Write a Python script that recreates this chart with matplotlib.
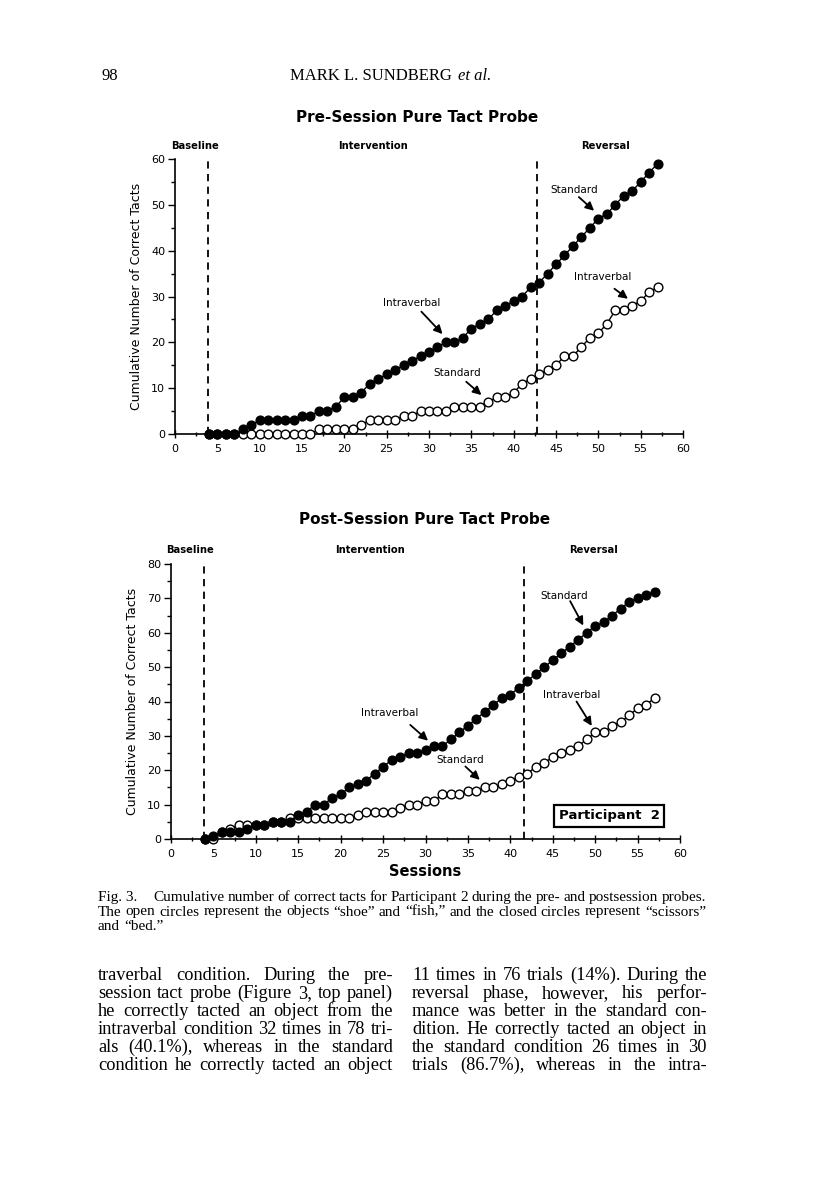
import matplotlib
matplotlib.use('Agg')
import matplotlib.pyplot as plt
from matplotlib.ticker import MultipleLocator

W, H = 816, 1177

# sessions 4..57
sessions = list(range(4, 58))

pre_closed = [0, 0, 0, 0, 1, 2, 3, 3, 3, 3,
              3, 4, 4, 5, 5, 6, 8, 8, 9, 11,
              12, 13, 14, 15, 16, 17, 18, 19, 20, 20,
              21, 23, 24, 25, 27, 28, 29, 30, 32, 33,
              35, 37, 39, 41, 43, 45, 47, 48, 50, 52,
              53, 55, 57, 59]
pre_open = [0, 0, 0, 0, 0, 0, 0, 0, 0, 0,
            0, 0, 0, 1, 1, 1, 1, 1, 2, 3,
            3, 3, 3, 4, 4, 5, 5, 5, 5, 6,
            6, 6, 6, 7, 8, 8, 9, 11, 12, 13,
            14, 15, 17, 17, 19, 21, 22, 24, 27, 27,
            28, 29, 31, 32]

post_closed = [0, 1, 2, 2, 2, 3, 4, 4, 5, 5,
               5, 7, 8, 10, 10, 12, 13, 15, 16, 17,
               19, 21, 23, 24, 25, 25, 26, 27, 27, 29,
               31, 33, 35, 37, 39, 41, 42, 44, 46, 48,
               50, 52, 54, 56, 58, 60, 62, 63, 65, 67,
               69, 70, 71, 72]
post_open = [0, 0, 2, 3, 4, 4, 4, 4, 5, 5,
             6, 6, 6, 6, 6, 6, 6, 6, 7, 8,
             8, 8, 8, 9, 10, 10, 11, 11, 13, 13,
             13, 14, 14, 15, 15, 16, 17, 18, 19, 21,
             22, 24, 25, 26, 27, 29, 31, 31, 33, 34,
             36, 38, 39, 41]

phase_lines_pre = [3.9, 42.7]
phase_lines_post = [3.9, 41.6]
phase_names = ['Baseline', 'Intervention', 'Reversal']

fig = plt.figure(figsize=(W / 100, H / 100), dpi=100)
fig.patch.set_facecolor('white')
SANS = 'DejaVu Sans'
SERIF = 'Liberation Serif'


def fx(x):
    return x / W


def fy(y):
    return 1 - y / H


def make_axes(left, right, y0, ytop):
    return fig.add_axes([fx(left), fy(y0), (right - left) / W, (y0 - ytop) / H])


def draw_panel(ax, ymax, closed, opened, lines, phase_x, phase_y, notes):
    ax.set_xlim(0, 60)
    ax.set_ylim(0, ymax)
    for s in ['top', 'right']:
        ax.spines[s].set_visible(False)
    for s in ['left', 'bottom']:
        ax.spines[s].set_linewidth(1.2)
    ax.xaxis.set_major_locator(MultipleLocator(5))
    ax.xaxis.set_minor_locator(MultipleLocator(2.5))
    ax.yaxis.set_major_locator(MultipleLocator(10))
    ax.yaxis.set_minor_locator(MultipleLocator(5))
    ax.tick_params(axis='x', which='major', direction='inout', length=6, width=1, labelsize=8, pad=4)
    ax.tick_params(axis='x', which='minor', direction='inout', length=3, width=1)
    ax.tick_params(axis='y', which='major', direction='out', length=5, width=1, labelsize=8, pad=2)
    ax.tick_params(axis='y', which='minor', direction='out', length=3, width=1)
    for x in lines:
        ax.plot([x, x], [0, ymax], color='black', lw=1.3, ls=(0, (4, 3)), clip_on=False)
    ax.plot(sessions, opened, color='black', lw=1, marker='o', ms=6.3, mfc='white',
            mec='black', mew=1, clip_on=False, zorder=3)
    ax.plot(sessions, closed, color='black', lw=1, marker='o', ms=6.3, mfc='black',
            mec='black', clip_on=False, zorder=4)
    for name, x in zip(phase_names, phase_x):
        ax.text(x, phase_y, name, ha='center', va='center', fontsize=7.2,
                fontweight='bold', family=SANS)
    for label, txy, start, tip in notes:
        ax.text(txy[0], txy[1], label, ha='center', va='center', fontsize=7.5, family=SANS)
        ax.annotate('', xy=tip, xytext=start,
                    arrowprops=dict(arrowstyle='-|>,head_length=0.5,head_width=0.25',
                                    color='black', lw=1.3, shrinkA=0, shrinkB=0))
    ax.set_ylabel('Cumulative Number of Correct Tacts', fontsize=9, family=SANS, labelpad=6)


# top panel
ax1 = make_axes(175, 683, 434, 159)
draw_panel(ax1, 60, pre_closed, pre_open, phase_lines_pre, [2.4, 23.4, 50.8], 62.9,
           [('Standard', (47.2, 53.3), (47.7, 51.7), (49.5, 48.7)),
            ('Intraverbal', (50.5, 34.2), (51.9, 31.7), (53.5, 29.5)),
            ('Intraverbal', (27.9, 28.6), (29.1, 26.7), (31.6, 21.8)),
            ('Standard', (33.3, 13.3), (34.4, 11.4), (36.2, 8.5))])

# bottom panel
ax2 = make_axes(171, 680, 839, 564)
draw_panel(ax2, 80, post_closed, post_open, phase_lines_post, [2.2, 23.5, 49.8], 84,
           [('Standard', (46.3, 70.8), (47.05, 69.2), (48.6, 62.1)),
            ('Intraverbal', (47.25, 41.8), (47.8, 40.0), (49.6, 32.9)),
            ('Intraverbal', (25.8, 36.6), (28.2, 33.2), (30.3, 28.6)),
            ('Standard', (34.1, 23.0), (34.7, 21.1), (36.4, 17.2))])
ax2.set_xlabel('Sessions', fontsize=10.5, family=SANS, fontweight='bold', labelpad=4)
ax2.text(51.65, 6.7, 'Participant  2', ha='center', va='center', fontsize=9.5,
         fontweight='bold', family=SANS,
         bbox=dict(boxstyle='square,pad=0.35', fc='white', ec='black', lw=1.6))

# titles
fig.text(fx(417), fy(118), 'Pre-Session Pure Tact Probe', ha='center', va='center',
         fontsize=11, fontweight='bold', family=SANS)
fig.text(fx(425), fy(519), 'Post-Session Pure Tact Probe', ha='center', va='center',
         fontsize=11, fontweight='bold', family=SANS)

renderer = fig.canvas.get_renderer()

# running head
fig.text(fx(102), fy(80), '98', fontsize=12, family=SERIF, va='baseline')
head = fig.text(fx(290), fy(80), 'MARK L. SUNDBERG ', fontsize=12, family=SERIF, va='baseline')
hw = head.get_window_extent(renderer).width
fig.text(fx(290 + hw + 2), fy(80), 'et al.', fontsize=12, family=SERIF, style='italic', va='baseline')


def justify(line, x0, x1, y, size, last=False):
    words = line.split()
    objs = [fig.text(0, fy(y), w, fontsize=size, family=SERIF, va='baseline') for w in words]
    widths = [o.get_window_extent(renderer).width for o in objs]
    if last or len(words) == 1:
        gap = size * 100 / 72 * 0.3
    else:
        gap = (x1 - x0 - sum(widths)) / (len(words) - 1)
    x = x0
    for o, w in zip(objs, widths):
        o.set_x(fx(x))
        x += w + gap


# figure caption
caption = ['Cumulative number of correct tacts for Participant 2 during the pre- and postsession probes.',
           'The open circles represent the objects \u201cshoe\u201d and \u201cfish,\u201d and the closed circles represent \u201cscissors\u201d',
           'and  \u201cbed.\u201d']
fig.text(fx(98), fy(901), 'Fig. 3.', fontsize=11, family=SERIF, va='baseline')
justify(caption[0], 153, 706, 901, 11)
justify(caption[1], 98, 706, 915.5, 11)
justify(caption[2], 98, 706, 930, 11, last=True)

# body text, two columns
left_col = ['traverbal condition. During the pre-',
            'session tact probe (Figure 3, top panel)',
            'he correctly tacted an object from the',
            'intraverbal condition 32 times in 78 tri-',
            'als (40.1%), whereas in the standard',
            'condition he correctly tacted an object']
right_col = ['11 times in 76 trials (14%). During the',
             'reversal phase, however, his perfor-',
             'mance was better in the standard con-',
             'dition. He correctly tacted an object in',
             'the standard condition 26 times in 30',
             'trials (86.7%), whereas in the intra-']
for i, (a, b) in enumerate(zip(left_col, right_col)):
    y = 980 + i * 18
    justify(a, 98, 393, y, 13.2)
    justify(b, 412, 707, y, 13.2)

fig.savefig('out.png', dpi=100, facecolor='white')
